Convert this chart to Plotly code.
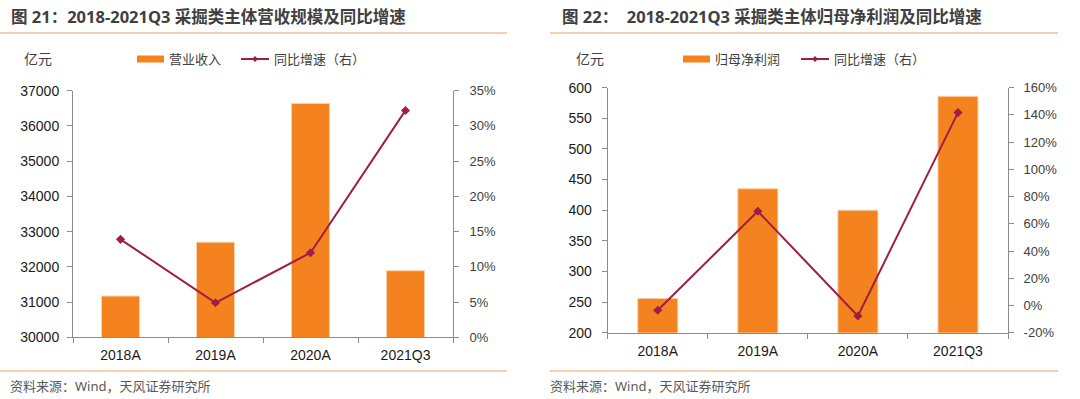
import plotly.graph_objects as go

W, H = 1080, 399

# ---------------- data ----------------
categories = ["2018A", "2019A", "2020A", "2021Q3"]
revenue = [31170, 32700, 36640, 31890]          # 营业收入 (亿元)
revenue_yoy = [13.9, 4.9, 12.0, 32.2]            # 同比增速 (%)
profit = [256, 435, 400, 586]                    # 归母净利润 (亿元)
profit_yoy = [-3.5, 69.2, -7.7, 141.7]           # 同比增速 (%)

left_ticks = [30000, 31000, 32000, 33000, 34000, 35000, 36000, 37000]
left_pct_ticks = [0, 5, 10, 15, 20, 25, 30, 35]
right_ticks = [200, 250, 300, 350, 400, 450, 500, 550, 600]
right_pct_ticks = [-20, 0, 20, 40, 60, 80, 100, 120, 140, 160]

title1 = "图 21：2018-2021Q3 采掘类主体营收规模及同比增速"
title2 = "图 22：  2018-2021Q3 采掘类主体归母净利润及同比增速"
source = "资料来源：Wind，天风证券研究所"

BAR = "#F4831F"
LINE = "#A11D44"
FONT = "Liberation Sans, Arial, sans-serif"
CJK = "Noto Sans, Noto Sans CJK SC, sans-serif"


def px(x):
    return x / W


def py(y):
    return 1 - y / H


fig = go.Figure()

# left panel
fig.add_trace(go.Bar(x=categories, y=revenue, name="营业收入", marker=dict(color=BAR, line=dict(color="#FAD0A6", width=1)),
                     width=0.4, xaxis="x", yaxis="y", showlegend=False))
fig.add_trace(go.Scatter(x=categories, y=revenue_yoy, name="同比增速（右）", mode="lines+markers",
                         line=dict(color=LINE, width=2), marker=dict(symbol="diamond", size=7, color=LINE),
                         xaxis="x", yaxis="y2", showlegend=False))
# right panel
fig.add_trace(go.Bar(x=categories, y=profit, name="归母净利润", marker=dict(color=BAR, line=dict(color="#FAD0A6", width=1)),
                     width=0.4, xaxis="x2", yaxis="y3", showlegend=False))
fig.add_trace(go.Scatter(x=categories, y=profit_yoy, name="同比增速（右）", mode="lines+markers",
                         line=dict(color=LINE, width=2), marker=dict(symbol="diamond", size=7, color=LINE),
                         xaxis="x2", yaxis="y4", showlegend=False))

axis_common = dict(showline=True, linecolor="#8C8C8C", linewidth=1, ticks="outside", ticklen=5,
                   tickcolor="#8C8C8C", showgrid=False, zeroline=False, automargin=False)

d1x = [px(73), px(453)]
d1y = [py(337.3), py(90.7)]
d2x = [px(607.7), px(1008)]
d2y = [py(332.7), py(87.7)]

main_font = dict(family=FONT, size=14, color="#1A1A1A")
pct_font = dict(family=FONT, size=13, color="#404040")

fig.update_layout(
    template="none",
    width=W, height=H, margin=dict(l=0, r=0, t=0, b=0, pad=0), autosize=False,
    paper_bgcolor="white", plot_bgcolor="white",
    bargap=0.6,
    xaxis=dict(domain=d1x, anchor="y", type="category", tickson="boundaries",
               tickfont=main_font, ticklabelstandoff=5, **axis_common),
    yaxis=dict(domain=d1y, anchor="x", range=[30000, 37000], tickvals=left_ticks,
               ticktext=[str(v) for v in left_ticks],
               tickfont=main_font, ticklabelstandoff=5, **axis_common),
    yaxis2=dict(domain=d1y, anchor="x", overlaying="y", side="right", range=[0, 35],
                tickvals=left_pct_ticks, ticktext=[f"{v}%" for v in left_pct_ticks],
                tickfont=pct_font, ticklabelstandoff=8, **axis_common),
    xaxis2=dict(domain=d2x, anchor="y3", type="category", tickson="boundaries",
                tickfont=main_font, ticklabelstandoff=5, **axis_common),
    yaxis3=dict(domain=d2y, anchor="x2", range=[200, 600], tickvals=right_ticks,
                ticktext=[str(v) for v in right_ticks],
                tickfont=main_font, ticklabelstandoff=7, **axis_common),
    yaxis4=dict(domain=d2y, anchor="x2", overlaying="y3", side="right", range=[-20, 160],
                tickvals=right_pct_ticks, ticktext=[f"{v}%" for v in right_pct_ticks],
                tickfont=pct_font, ticklabelstandoff=7, **axis_common),
)

shapes = []
annotations = []


def text(x, y, s, size=13, color="#404040", bold=False, family=CJK, xanchor="left"):
    annotations.append(dict(x=px(x), y=py(y), xref="paper", yref="paper", text=f"<b>{s}</b>" if bold else s,
                            showarrow=False, xanchor=xanchor, yanchor="middle",
                            font=dict(family=family, size=size, color=color)))


def hline(x0, x1, y, color="#EEA062", width=1.2):
    shapes.append(dict(type="line", xref="paper", yref="paper", x0=px(x0), x1=px(x1), y0=py(y), y1=py(y),
                       line=dict(color=color, width=width)))


# titles + separators
text(9, 17, title1, size=16.5, color="#404040", bold=True)
text(560, 17, title2, size=16.5, color="#404040", bold=True)
hline(0, 507, 33)
hline(550, 1058, 33)
hline(0, 507, 371)
hline(550, 1058, 371)
text(8, 386, source, size=13, color="#595959")
text(548, 386, source, size=13, color="#595959")

# unit labels
text(22, 58, "亿元", size=14, color="#404040")
text(574, 58, "亿元", size=14, color="#404040")


def legend(xb, xl, labels):
    # bar swatch
    shapes.append(dict(type="rect", xref="paper", yref="paper", x0=px(xb), x1=px(xb + 27), y0=py(62.5), y1=py(55.5),
                       fillcolor=BAR, line=dict(width=0)))
    text(xb + 30, 59, labels[0], size=13, color="#404040")
    # line swatch
    shapes.append(dict(type="line", xref="paper", yref="paper", x0=px(xl), x1=px(xl + 28), y0=py(59), y1=py(59),
                       line=dict(color=LINE, width=2)))
    cx, cy = xl + 14, 59
    shapes.append(dict(type="path", xref="paper", yref="paper",
                       path=f"M {px(cx-3)},{py(cy)} L {px(cx)},{py(cy-3)} L {px(cx+3)},{py(cy)} L {px(cx)},{py(cy+3)} Z",
                       fillcolor=LINE, line=dict(color=LINE, width=0)))
    text(xl + 31, 59, labels[1], size=13, color="#404040")


legend(137, 241, ["营业收入", "同比增速（右）"])
legend(683, 801, ["归母净利润", "同比增速（右）"])

fig.update_layout(shapes=shapes, annotations=annotations)
fig.write_html("out.html", config={"displayModeBar": False},
               post_script="document.body.style.margin='0';document.body.style.overflow='hidden';")
